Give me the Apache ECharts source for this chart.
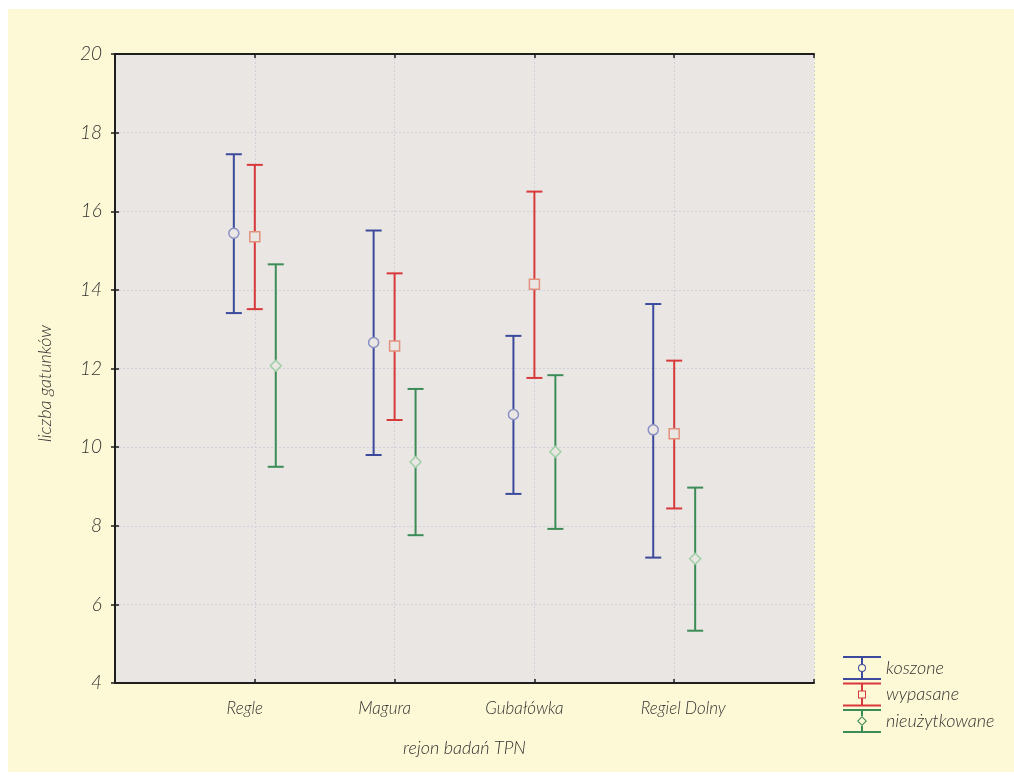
<!DOCTYPE html>
<html>
<head>
<meta charset="utf-8">
<script src="https://cdn.jsdelivr.net/npm/echarts@6/dist/echarts.min.js"></script>
<style>html,body{margin:0;padding:0;background:#fff}#c{width:1014px;height:778px}</style>
</head>
<body>
<div id="c"></div>
<script>
const categories = ['Regle', 'Magura', 'Gubałówka', 'Regiel Dolny'];
const seriesNames = ['koszone', 'wypasane', 'nieużytkowane'];
const yTickValues = [4, 6, 8, 10, 12, 14, 16, 18, 20];

const koszoneMean = [15.44, 12.66, 10.83, 10.44];
const koszoneLow  = [13.41, 9.80, 8.81, 7.19];
const koszoneHigh = [17.45, 15.51, 12.83, 13.64];

const wypasaneMean = [15.35, 12.57, 14.14, 10.34];
const wypasaneLow  = [13.51, 10.69, 11.76, 8.44];
const wypasaneHigh = [17.18, 14.42, 16.50, 12.20];

const nieuzMean = [12.07, 9.62, 9.88, 7.16];
const nieuzLow  = [9.50, 7.76, 7.92, 5.33];
const nieuzHigh = [14.65, 11.48, 11.83, 8.97];

const groups = [
  {name: seriesNames[0], mean: koszoneMean, low: koszoneLow, high: koszoneHigh,
   color: '#3b4a9c', markerStroke: '#8b90c4', symbol: 'circle', size: 10, offset: -0.15,
   icon: 'path://M0 0H38V2H0Z M0 22H38V24H0Z M18 0H20V8H18Z M18 16H20V24H18Z M23 12A4 4 0 1 0 15 12A4 4 0 1 0 23 12Z M22 12A3 3 0 1 1 16 12A3 3 0 1 1 22 12Z'},
  {name: seriesNames[1], mean: wypasaneMean, low: wypasaneLow, high: wypasaneHigh,
   color: '#d8393a', markerStroke: '#e2917c', symbol: 'rect', size: 10, offset: 0,
   icon: 'path://M0 0H38V2H0Z M0 22H38V24H0Z M18 0H20V8H18Z M18 16H20V24H18Z M15 8H23V16H15Z M16 9V15H22V9Z'},
  {name: seriesNames[2], mean: nieuzMean, low: nieuzLow, high: nieuzHigh,
   color: '#3c8c57', markerStroke: '#9fd0a6', symbol: 'diamond', size: 11, offset: 0.15,
   icon: 'path://M0 0H38V2H0Z M0 22H38V24H0Z M18 0H20V7H18Z M18 17H20V24H18Z M19 7L24 12L19 17L14 12Z M19 8.5L15.5 12L19 15.5L22.5 12Z'}
];

const plotBg = '#e9e6e3';
const font = 'Lato, "Open Sans", sans-serif';
const textColor = '#333333';
const fw = 300;
// label style keys per category position (visual nudges only)
const labelStyleKeys = ['l', 'l', 'l', 'r'];

const series = [];
groups.forEach(g => {
  series.push({
    name: g.name,
    type: 'custom',
    xAxisIndex: 0, yAxisIndex: 0,
    itemStyle: {color: g.color},
    encode: {x: 0, y: [1, 2]},
    data: categories.map((c, i) => [i + 1 + g.offset, g.low[i], g.high[i]]),
    renderItem: function (params, api) {
      const x = api.value(0);
      const pLo = api.coord([x, api.value(1)]);
      const pHi = api.coord([x, api.value(2)]);
      const half = 8;
      const st = {stroke: g.color, lineWidth: 2};
      return {
        type: 'group',
        children: [
          {type: 'line', shape: {x1: pLo[0], y1: pLo[1], x2: pHi[0], y2: pHi[1]}, style: st},
          {type: 'line', shape: {x1: pHi[0] - half, y1: pHi[1], x2: pHi[0] + half, y2: pHi[1]}, style: st},
          {type: 'line', shape: {x1: pLo[0] - half, y1: pLo[1], x2: pLo[0] + half, y2: pLo[1]}, style: st}
        ]
      };
    },
    z: 3
  });
  series.push({
    name: g.name,
    type: 'scatter',
    xAxisIndex: 0, yAxisIndex: 0,
    symbol: g.symbol,
    symbolSize: g.size,
    itemStyle: {color: plotBg, borderColor: g.markerStroke, borderWidth: 1.5, opacity: 1},
    data: categories.map((c, i) => [i + 1 + g.offset, g.mean[i]]),
    z: 4
  });
});

const labelFont = {fontFamily: font, fontStyle: 'italic', fontWeight: fw, fontSize: 17, color: textColor};

const option = {
  animation: false,
  backgroundColor: '#ffffff',
  graphic: [{
    type: 'rect', left: 8, top: 9, z: -10, silent: true,
    shape: {width: 1006, height: 763},
    style: {fill: '#fdf8d5'}
  }],
  grid: {left: 115, right: 200, top: 54, bottom: 95, show: true, backgroundColor: plotBg, borderWidth: 0},
  legend: {
    orient: 'vertical', left: 843, top: 656, padding: 0,
    itemWidth: 38, itemHeight: 24, itemGap: 2.5,
    textStyle: {fontFamily: font, fontStyle: 'italic', fontWeight: fw, fontSize: 18, color: textColor},
    data: groups.map(g => ({name: g.name, icon: g.icon}))
  },
  xAxis: [{
    type: 'value', min: 0, max: 5, interval: 1,
    name: 'rejon badań TPN', nameLocation: 'middle', nameGap: 56,
    nameTextStyle: {fontFamily: font, fontStyle: 'italic', fontWeight: fw, fontSize: 18, color: textColor},
    axisLine: {lineStyle: {color: '#1e1e1e', width: 2}},
    axisTick: {inside: true, length: 4, lineStyle: {color: '#1e1e1e', width: 1.5}},
    axisLabel: Object.assign({}, labelFont, {
      margin: 17,
      formatter: v => (v >= 1 && v <= categories.length) ? '{' + labelStyleKeys[v - 1] + '|' + categories[v - 1] + '}' : '',
      rich: {
        l: Object.assign({}, labelFont, {padding: [0, 20, 0, 0]}),
        r: Object.assign({}, labelFont, {padding: [0, 0, 0, 18]})
      }
    }),
    splitLine: {show: true, lineStyle: {color: '#cdd0da', type: [2, 2], width: 1}}
  }, {
    type: 'value', min: 0, max: 5, interval: 1, position: 'top',
    axisLine: {lineStyle: {color: '#1e1e1e', width: 2}},
    axisTick: {inside: true, length: 4, lineStyle: {color: '#1e1e1e', width: 1.5}},
    axisLabel: {show: false}, splitLine: {show: false}
  }],
  yAxis: [{
    type: 'value', min: yTickValues[0], max: yTickValues[yTickValues.length - 1], interval: 2,
    name: 'liczba gatunków', nameLocation: 'middle', nameGap: 61,
    nameTextStyle: {fontFamily: font, fontStyle: 'italic', fontWeight: fw, fontSize: 18, color: textColor, padding: [0, 30, 0, 0]},
    axisLine: {show: true, lineStyle: {color: '#1e1e1e', width: 2}},
    axisTick: {show: true, inside: true, length: 4, lineStyle: {color: '#1e1e1e', width: 1.5}},
    axisLabel: {fontFamily: font, fontStyle: 'italic', fontWeight: fw, fontSize: 19, color: textColor, margin: 13},
    splitLine: {show: true, lineStyle: {color: '#cdd0da', type: [2, 2], width: 1}}
  }, {
    type: 'value', min: yTickValues[0], max: yTickValues[yTickValues.length - 1], interval: 2, position: 'right',
    axisLine: {show: true, lineStyle: {color: '#1e1e1e', width: 2}},
    axisTick: {show: true, inside: true, length: 4, lineStyle: {color: '#1e1e1e', width: 1.5}},
    axisLabel: {show: false}, splitLine: {show: false}
  }],
  series: series
};

const chart = echarts.init(document.getElementById('c'), null, {renderer: 'canvas'});
chart.setOption(option);
</script>
</body>
</html>
